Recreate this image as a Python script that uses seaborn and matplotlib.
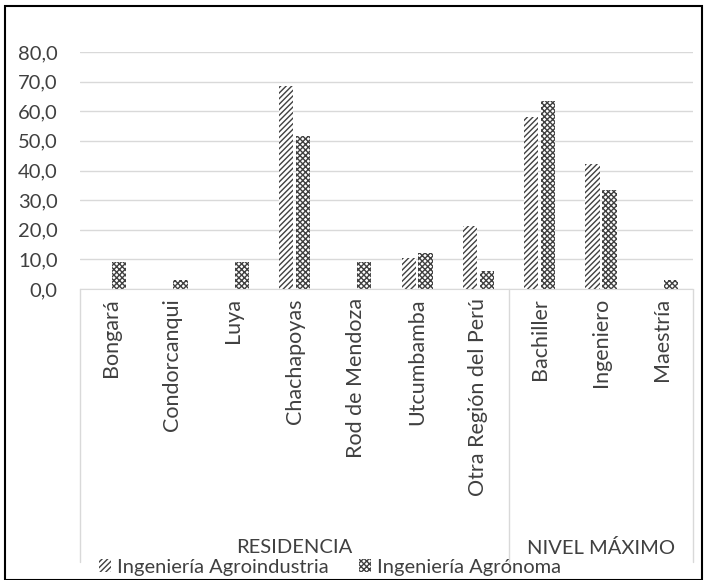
import numpy as np
import pandas as pd
import matplotlib
matplotlib.use("Agg")
import matplotlib.pyplot as plt
import seaborn as sns
from matplotlib.patches import Patch, Rectangle
from matplotlib.ticker import FuncFormatter
from matplotlib.transforms import blended_transform_factory

# data (%)
categories = ["Bongará", "Condorcanqui", "Luya", "Chachapoyas", "Rod de Mendoza",
              "Utcumbamba", "Otra Región del Perú", "Bachiller", "Ingeniero", "Maestría"]
agroindustria = [0, 0, 0, 68.4, 0, 10.5, 21.1, 57.9, 42.1, 0]
agronoma = [9.1, 3.0, 9.1, 51.5, 9.1, 12.1, 6.1, 63.6, 33.3, 3.0]
series = ["Ingeniería Agroindustria", "Ingeniería Agrónoma"]
groups = ["RESIDENCIA", "NIVEL MÁXIMO"]
group_sizes = [7, 3]
yticks = [0, 10, 20, 30, 40, 50, 60, 70, 80]

df = pd.DataFrame({
    "categoria": categories * 2,
    "valor": agroindustria + agronoma,
    "programa": [series[0]] * len(categories) + [series[1]] * len(categories),
})

sns.set_style("white")
plt.rcParams["font.family"] = ["Lato", "DejaVu Sans"]
plt.rcParams["hatch.linewidth"] = 1.0
plt.rcParams["hatch.color"] = "#404040"

INK = "#404040"
LINE = "#d9d9d9"
FS = 14.5
hatches = ["//////", "xxxxxx"]

fig = plt.figure(figsize=(7.04, 5.8), dpi=100)
ax = fig.add_axes([80 / 704, 1 - 289 / 580, 613 / 704, 237 / 580])

sns.barplot(data=df, x="categoria", y="valor", hue="programa", order=categories,
            hue_order=series, palette=["white", "white"], saturation=1,
            width=0.55, gap=0.15, edgecolor=INK, linewidth=0,
            errorbar=None, legend=False, ax=ax)
for cont, h in zip(ax.containers, hatches):
    for bar in cont:
        bar.set_hatch(h)
        bar.set_edgecolor(INK)

ax.set_ylim(0, 80)
ax.set_yticks(yticks)
ax.yaxis.set_major_formatter(FuncFormatter(lambda v, _: f"{v:.1f}".replace(".", ",")))
ax.yaxis.grid(True, color=LINE, lw=1)
ax.set_axisbelow(True)
ax.set_xlabel("")
ax.set_ylabel("")
ax.tick_params(axis="y", length=0, pad=16, labelsize=FS, labelcolor=INK)
ax.tick_params(axis="x", length=0, pad=6.5, labelsize=15.5, labelcolor=INK, rotation=90)
for lab in ax.get_xticklabels():
    lab.set_va("top")
for s in ["top", "right", "left"]:
    ax.spines[s].set_visible(False)
ax.spines["bottom"].set_color(LINE)

# multi-level category box
trans = blended_transform_factory(ax.transData, ax.transAxes)
bounds = np.cumsum([0] + group_sizes) - 0.5
for b in bounds:
    ax.plot([b, b], [0, -1.152], color=LINE, lw=1, transform=trans, clip_on=False)
for g, lo, hi in zip(groups, bounds[:-1], bounds[1:]):
    ax.text((lo + hi) / 2, -1.092, g, transform=trans, ha="center", va="center",
            fontsize=FS, color=INK)
ax.set_xlim(-0.5, len(categories) - 0.5)

handles = [Patch(facecolor="white", edgecolor=INK, hatch=h, lw=0) for h in hatches]
fig.legend(handles, series, loc="center", bbox_to_anchor=(330 / 704, 1 - 567 / 580),
           ncol=2, frameon=False, fontsize=FS, handlelength=0.6, handleheight=0.6,
           handletextpad=0.3, columnspacing=1.5, borderaxespad=0, labelcolor=INK)

fig.patches.append(Rectangle((5 / 704, 0), 697 / 704, 1 - 6 / 580, transform=fig.transFigure,
                             fill=False, edgecolor="black", lw=1.5))

fig.savefig("out.png", dpi=100)
plt.close()
